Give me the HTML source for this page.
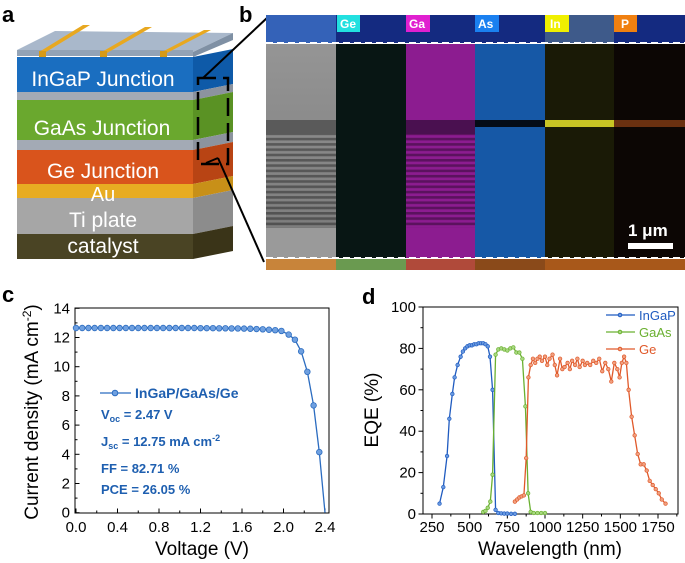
<!DOCTYPE html>
<html><head><meta charset="utf-8"><style>
body{margin:0;background:#fff}
svg{display:block;font-family:"Liberation Sans",sans-serif}
</style></head><body>
<svg id="fig" width="685" height="563" viewBox="0 0 685 563">
<defs>
<pattern id="stripes" width="10" height="5.3" patternUnits="userSpaceOnUse"><rect width="10" height="2.6" fill="#000" opacity="0.35"/></pattern>
<linearGradient id="semg" x1="0" y1="0" x2="0" y2="1"><stop offset="0" stop-color="#959595"/><stop offset="1" stop-color="#7a7a7a"/></linearGradient>
</defs>
<!-- panel a -->
<g>
<text x="2" y="22" font-size="22" font-weight="bold">a</text>
<polygon points="17,50 55,31 233,33 193,52" fill="#a9b8cb"/>
<rect x="17" y="50" width="176" height="6" fill="#93a3b6"/>
<polygon points="193,52 233,33 233,40 193,57" fill="#7f90a4"/>
<g>
<polygon points="39,52 83,25 90,25 46,52" fill="#e8a820"/>
<polygon points="100,53 145,27 152,27 107,53" fill="#e8a820"/>
<polygon points="160,53 204,30 211,30 167,53" fill="#e8a820"/>
<rect x="39" y="51" width="7" height="6" fill="#d69a18"/><rect x="100" y="51" width="7" height="6" fill="#d69a18"/><rect x="160" y="51" width="7" height="6" fill="#d69a18"/>
</g>
<g><rect x="17" y="57" width="176" height="35" fill="#1a6ec0"/><polygon points="193,57 233,49 233,84 193,92" fill="#0e5aa8"/><text x="103" y="86" font-size="21" fill="#fff" text-anchor="middle">InGaP Junction</text></g>
<rect x="17" y="92" width="176" height="8" fill="#a3aab5"/><polygon points="193,92 233,84 233,92 193,100" fill="#8c939e"/>
<g><rect x="17" y="100" width="176" height="40" fill="#6aa82e"/><polygon points="193,100 233,92 233,132 193,140" fill="#5a9224"/><text x="102" y="135" font-size="21" fill="#fff" text-anchor="middle">GaAs Junction</text></g>
<rect x="17" y="140" width="176" height="10" fill="#a3aab5"/><polygon points="193,140 233,132 233,142 193,150" fill="#8c939e"/>
<g><rect x="17" y="150" width="176" height="34" fill="#d9541c"/><polygon points="193,150 233,142 233,176 193,184" fill="#b84414"/><text x="103" y="178" font-size="21" fill="#fff" text-anchor="middle">Ge Junction</text></g>
<g><rect x="17" y="184" width="176" height="14" fill="#e8ac22"/><polygon points="193,184 233,176 233,190 193,198" fill="#c89018"/></g>
<g><rect x="17" y="198" width="176" height="36" fill="#a6a6a6"/><polygon points="193,198 233,190 233,226 193,234" fill="#8c8c8c"/><text x="103" y="227" font-size="21" fill="#fff" text-anchor="middle">Ti plate</text></g>
<text x="103" y="201" font-size="20" fill="#fff" text-anchor="middle">Au</text>
<g><rect x="17" y="234" width="176" height="25" fill="#4a4424"/><polygon points="193,234 233,226 233,251 193,259" fill="#3a3418"/><text x="103" y="253" font-size="21" fill="#fff" text-anchor="middle">catalyst</text></g>
<rect x="198" y="78" width="30" height="86" fill="none" stroke="#000" stroke-width="2.5" stroke-dasharray="18,7"/>
<line x1="203" y1="78" x2="268" y2="17" stroke="#000" stroke-width="2"/>
<line x1="206" y1="163" x2="218" y2="158" stroke="#000" stroke-width="2"/>
<line x1="218" y1="158" x2="264" y2="262" stroke="#000" stroke-width="2"/>
</g>
<!-- panel b -->
<g>
<text x="239" y="22" font-size="22" font-weight="bold">b</text>
<rect x="266" y="15" width="419" height="28" fill="#142a80"/>
<rect x="266" y="15" width="70" height="28" fill="#3462b8"/>
<rect x="545" y="15" width="69" height="28" fill="#3e5a8a"/>
<rect x="266" y="44" width="70" height="214" fill="url(#semg)"/>
<rect x="336" y="44" width="70" height="214" fill="#081614"/>
<rect x="406" y="44" width="69" height="214" fill="#8c1c90"/>
<rect x="475" y="44" width="70" height="214" fill="#1658a6"/>
<rect x="545" y="44" width="69" height="214" fill="#1a1a06"/>
<rect x="614" y="44" width="71" height="214" fill="#0c0604"/>
<rect x="266" y="120" width="70" height="14" fill="#5a5a5a"/>
<rect x="406" y="120" width="69" height="14" fill="#4a1050"/>
<rect x="475" y="120" width="70" height="7" fill="#040c18"/>
<rect x="545" y="120" width="69" height="7" fill="#c8c424"/>
<rect x="614" y="120" width="71" height="7" fill="#6a3010"/>
<rect x="266" y="134" width="70" height="94" fill="url(#stripes)"/>
<rect x="406" y="134" width="69" height="94" fill="url(#stripes)"/>
<rect x="266" y="228" width="70" height="30" fill="#9a9a9a"/>
<rect x="266" y="259" width="70" height="11" fill="#c8843a"/>
<rect x="336" y="259" width="70" height="11" fill="#6a9a50"/>
<rect x="406" y="259" width="69" height="11" fill="#b04a3a"/>
<rect x="475" y="259" width="70" height="11" fill="#8a4a1a"/>
<rect x="545" y="259" width="140" height="11" fill="#a8581a"/>
<line x1="266" y1="43" x2="685" y2="43" stroke="#fff" stroke-width="2" stroke-dasharray="7,4"/>
<line x1="266" y1="258" x2="685" y2="258" stroke="#fff" stroke-width="2" stroke-dasharray="7,4"/>
<g font-size="12" font-weight="bold" fill="#fff">
<rect x="337" y="15" width="23" height="17" fill="#22e0e0"/><text x="340" y="28">Ge</text>
<rect x="406" y="15" width="24" height="17" fill="#e020d0"/><text x="409" y="28">Ga</text>
<rect x="475" y="15" width="24" height="17" fill="#1a80f0"/><text x="478" y="28">As</text>
<rect x="545" y="15" width="24" height="17" fill="#f0f000"/><text x="550" y="28">In</text>
<rect x="614" y="15" width="23" height="17" fill="#f08010"/><text x="621" y="28">P</text>
</g>
<text x="628" y="236" font-size="17" font-weight="bold" fill="#fff">1 μm</text>
<rect x="628" y="243" width="45" height="6" fill="#fff"/>
</g>
<g id="pc"></g>
<g id="pd"></g>
</svg>
<script>
const jvV=[0,0.06,0.12,0.18,0.24,0.30,0.36,0.42,0.48,0.54,0.60,0.66,0.72,0.78,0.84,0.90,0.96,1.02,1.08,1.14,1.20,1.26,1.32,1.38,1.44,1.50,1.56,1.62,1.68,1.74,1.80,1.86,1.92,1.98,2.05,2.11,2.17,2.23,2.29,2.345];
const jvJ=[12.65,12.65,12.65,12.65,12.65,12.65,12.65,12.65,12.65,12.65,12.65,12.65,12.65,12.65,12.65,12.65,12.65,12.65,12.65,12.65,12.64,12.64,12.64,12.63,12.63,12.62,12.62,12.61,12.6,12.58,12.56,12.53,12.5,12.45,12.2,11.85,11.05,9.65,7.35,4.15];
const jvEnd=[2.40,0];
const cXTicks=["0.0","0.4","0.8","1.2","1.6","2.0","2.4"];
const cYTicks=["0","2","4","6","8","10","12","14"];
const ingapX=[300,325,350,365,385,400,420,440,455,470,485,500,515,530,545,560,575,590,605,620,635,652,672,690,710,730,750,775,800];
const ingapY=[5,13,28,46,58,66,72,76,78.5,80,81,81.5,81.5,82,82,82.5,82.5,82.5,82,81,76,60,2,0.5,0.3,0.2,0.2,0.1,0.1];
const gaasX=[590,605,620,637,652,672,690,710,730,750,770,790,810,830,850,870,888,905,925,950,975,1000];
const gaasY=[1,1.5,3,6,19,77,79.5,80,79.5,79,80,80.5,78,78,75,52,10,1,0.5,0.5,0.5,0.5];
const geX=[800,815,830,845,860,875,890,905,920,935,950,965,980,1000,1015,1030,1050,1065,1080,1100,1115,1130,1150,1165,1180,1200,1215,1230,1250,1265,1280,1300,1320,1340,1360,1380,1400,1420,1440,1460,1480,1495,1510,1525,1540,1555,1575,1595,1615,1635,1655,1675,1695,1715,1735,1755,1775,1800];
const geY=[6,7,8,8.5,9,27,66,72,75,73,75,76,74,76,72,75,77,72,67,75,70,71,73,70,74,72,75,71,74,72,73,72,74,73,75,69,73,70,64,73,70,66,73,76,73,60,47,38,29,24,24,21,16,14,12,10,7,5];
const dXTicks=["250","500","750","1000","1250","1500","1750"];
const dYTicks=["0","20","40","60","80","100"];
const NS="http://www.w3.org/2000/svg";
function mk(p,tag,a,txt){const e=document.createElementNS(NS,tag);for(const k in a)e.setAttribute(k,a[k]);if(txt!==undefined)e.textContent=txt;p.appendChild(e);return e;}
// panel c
const pc=document.getElementById('pc');
const cx=v=>76+v*103.75, cy=j=>512.7-j*14.6;
mk(pc,'text',{x:2,y:302,'font-size':22,'font-weight':'bold'},'c');
let r=mk(pc,'rect',{x:75,y:308,width:254,height:205,fill:'none',stroke:'#000','stroke-width':1});


for(let i=0;i<=12;i++){const x=cx(i*0.2);mk(pc,'line',{x1:x,x2:x,y1:513,y2:513-(i%2?2.5:4.5),stroke:'#000'});}
cXTicks.forEach(t=>{const e=mk(pc,'text',{x:cx(parseFloat(t)),y:532,'font-size':15,'text-anchor':'middle'},t);});
for(let i=0;i<=14;i++){const y=cy(i);mk(pc,'line',{x1:75,x2:75+(i%2?2.5:4.5),y1:y,y2:y,stroke:'#000'});}
cYTicks.forEach(t=>{const e=mk(pc,'text',{x:70,y:cy(+t)+5,'font-size':15,'text-anchor':'end'},t);});
let xt=mk(pc,'text',{x:202,y:555,'font-size':19,'text-anchor':'middle'},'Voltage (V)');

let yt=mk(pc,'text',{x:0,y:0,'font-size':19,'text-anchor':'middle',transform:'translate(38,412) rotate(-90)'});
yt.innerHTML='Current density (mA cm<tspan font-size="12" dy="-7">-2</tspan><tspan dy="7">)</tspan>';

const blue='#2b6cc0';
let pts=jvV.map((v,i)=>cx(v)+','+cy(jvJ[i])).join(' ')+' '+cx(jvEnd[0])+','+cy(jvEnd[1]);
let pl=mk(pc,'polyline',{points:pts,fill:'none',stroke:blue,'stroke-width':1.3});

jvV.forEach((v,i)=>{const c=mk(pc,'circle',{cx:cx(v),cy:cy(jvJ[i]),r:2.8,fill:'#6fa0e0',stroke:blue,'stroke-width':0.8});});
mk(pc,'line',{x1:100,x2:131,y1:393,y2:393,stroke:blue,'stroke-width':1.3});
mk(pc,'circle',{cx:115,cy:393,r:2.8,fill:'#6fa0e0',stroke:blue});
const g=mk(pc,'g',{fill:'#1e5fb0','font-size':13,'font-weight':'bold'});

mk(g,'text',{x:135,y:398,'font-size':14},'InGaP/GaAs/Ge');
let t1=mk(g,'text',{x:101,y:419});t1.innerHTML='V<tspan font-size="9" dy="3">oc</tspan><tspan dy="-3"> = 2.47 V</tspan>';
let t2=mk(g,'text',{x:101,y:446});t2.innerHTML='J<tspan font-size="9" dy="3">sc</tspan><tspan dy="-3"> = 12.75 mA cm</tspan><tspan font-size="9" dy="-5">-2</tspan>';
mk(g,'text',{x:101,y:473},'FF = 82.71 %');
mk(g,'text',{x:101,y:494},'PCE = 26.05 %');
// panel d
const pd=document.getElementById('pd');
const dx=w=>432+(w-250)*0.15067, dy=q=>514-q*2.07;
mk(pd,'text',{x:362,y:304,'font-size':22,'font-weight':'bold'},'d');
r=mk(pd,'rect',{x:423,y:307,width:255,height:207,fill:'none',stroke:'#000','stroke-width':1});

for(let w=250;w<=1875;w+=125){const x=dx(w);mk(pd,'line',{x1:x,x2:x,y1:514,y2:514+((w-250)%250?2.5:4.5),stroke:'#000'});}
dXTicks.forEach(t=>{const e=mk(pd,'text',{x:dx(+t),y:532,'font-size':15,'text-anchor':'middle'},t);});
for(let q=0;q<=100;q+=10){const y=dy(q);mk(pd,'line',{x1:423,x2:423-(q%20?2.5:4.5),y1:y,y2:y,stroke:'#000'});}
dYTicks.forEach(t=>{const e=mk(pd,'text',{x:416,y:dy(+t)+5,'font-size':15,'text-anchor':'end'},t);});
xt=mk(pd,'text',{x:550,y:555,'font-size':19,'text-anchor':'middle'},'Wavelength (nm)');

yt=mk(pd,'text',{x:0,y:0,'font-size':19,'text-anchor':'middle',transform:'translate(378,410) rotate(-90)'},'EQE (%)');

const series=[[ingapX,ingapY,'#1f5bc0','#6a9ae0','InGaP',315],[gaasX,gaasY,'#6ab030','#a8d880','GaAs',332],[geX,geY,'#e0592a','#f0a080','Ge',349]];
series.forEach(([X,Y,col,fc,name,ly])=>{
 const s=mk(pd,'g',{});
 
 
 mk(s,'polyline',{points:X.map((w,i)=>dx(w)+','+dy(Y[i])).join(' '),fill:'none',stroke:col,'stroke-width':1.3});
 X.forEach((w,i)=>mk(s,'circle',{cx:dx(w),cy:dy(Y[i]),r:1.8,fill:fc,stroke:col,'stroke-width':0.7}));
 const l=mk(pd,'g',{});
 
 
 mk(l,'line',{x1:606,x2:635,y1:ly,y2:ly,stroke:col,'stroke-width':1.3});
 mk(l,'circle',{cx:620,cy:ly,r:1.8,fill:fc,stroke:col});
 mk(l,'text',{x:639,y:ly+5,'font-size':13,fill:col},name);
});
</script>
</body></html>
